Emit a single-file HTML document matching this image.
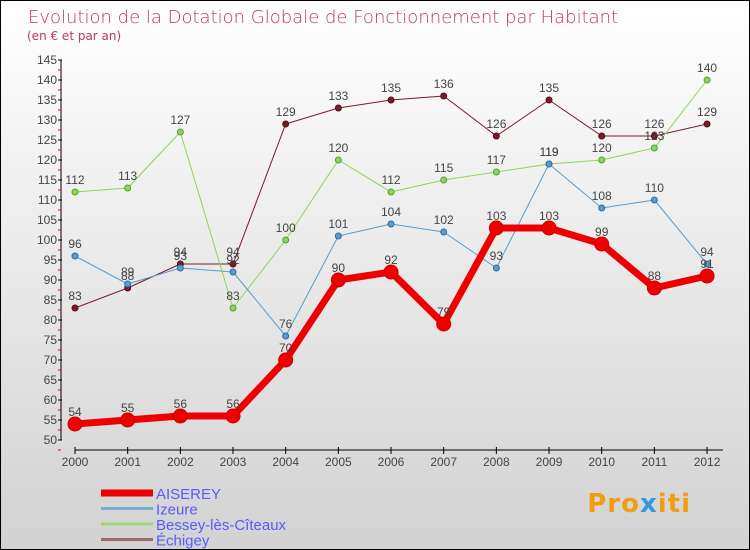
<!DOCTYPE html>
<html><head><meta charset="utf-8"><style>
body{margin:0}
#c{width:748px;height:548px;border:1px solid #000;background:linear-gradient(#fff,#d2d2d2);position:relative;overflow:hidden;font-family:"Liberation Sans",sans-serif}
</style></head><body>
<div id="c">
<svg id="s" width="748" height="548" style="position:absolute;left:0;top:0">
<text x="27" y="22" font-size="18" fill="#c0356a" font-family="DejaVu Sans" style="font-weight:200">Evolution de la Dotation Globale de Fonctionnement par Habitant</text>
<text x="26" y="39" font-size="12" fill="#c0356a" font-family="DejaVu Sans">(en € et par an)</text>
</svg>
<div style="position:absolute;right:58px;top:488px;font-size:26px;font-weight:bold;letter-spacing:1px;font-family:'DejaVu Sans',sans-serif"><span style="color:#f39c12">Pro</span><span style="color:#3498db">x</span><span style="color:#f39c12">iti</span></div>
</div>
<script>
const years=["2000","2001","2002","2003","2004","2005","2006","2007","2008","2009","2010","2011","2012"];
const yTicks=[50,55,60,65,70,75,80,85,90,95,100,105,110,115,120,125,130,135,140,145];
const aiserey=[54,55,56,56,70,90,92,79,103,103,99,88,91];
const izeure=[96,89,93,92,76,101,104,102,93,119,108,110,94];
const bessey=[112,113,127,83,100,120,112,115,117,119,120,123,140];
const echigey=[83,88,94,94,129,133,135,136,126,135,126,126,129];
const NS="http://www.w3.org/2000/svg",s=document.getElementById('s');
const X=i=>74+i*52.67, Y=v=>439-(v-50)*4;
function mk(t,a,p){const e=document.createElementNS(NS,t);for(const k in a)e.setAttribute(k,a[k]);(p||s).appendChild(e);return e;}
let ax=mk('line',{x1:60,y1:59,x2:60,y2:439,stroke:'#000'});


yTicks.forEach(v=>{const l=mk('line',{x1:57,x2:61,y1:Y(v),y2:Y(v),stroke:'#000'});


const m=mk('line',{x1:57,x2:60,y1:Y(v)+10,y2:Y(v)+10,stroke:'#e00'});


const t=mk('text',{x:56,y:Y(v)+4,'text-anchor':'end','font-size':12,fill:'#444'});t.textContent=v;

});
let xa=mk('line',{x1:74,y1:449,x2:722,y2:449,stroke:'#000'});


years.forEach((y,i)=>{const l=mk('line',{x1:X(i),x2:X(i),y1:446,y2:453,stroke:'#000'});


const t=mk('text',{x:X(i),y:465,'text-anchor':'middle','font-size':12,fill:'#444'});t.textContent=y;

});
function series(d,col,w,r,name,lab){const g=mk('g',{});


const pl=mk('polyline',{points:d.map((v,i)=>X(i)+','+Y(v)).join(' '),fill:'none',stroke:col,'stroke-width':w,'stroke-linejoin':'round'},g);


d.forEach((v,i)=>{const c=mk('circle',{cx:X(i),cy:Y(v),r:r,fill:col,stroke:lab,'stroke-width':1},g);


const t=mk('text',{x:X(i),y:Y(v)-8,'text-anchor':'middle','font-size':12,fill:'#444'},g);t.textContent=v;

});}
series(echigey,'#7a1a2a',1,3,'echigey','#5a0a1a');
series(bessey,'#8ed45a',1,3,'bessey','#5aa030');
series(izeure,'#5a9ccc',1,3,'izeure','#2a70a8');
series(aiserey,'#ee0000',7,7,'aiserey','#c00');
const leg=[["AISEREY","#ee0000",7],["Izeure","#7aaed0",3],["Bessey-lès-Cîteaux","#9ed47a",3],["Échigey","#9a6a6a",3]];
leg.forEach((l,i)=>{const y=492+i*15.5;const ln=mk('line',{x1:100,x2:152,y1:y,y2:y,stroke:l[1],'stroke-width':l[2]});


const t=mk('text',{x:155,y:y+6,'font-size':15,fill:'#5a5aff'});t.textContent=l[0];

});
</script>
</body></html>
